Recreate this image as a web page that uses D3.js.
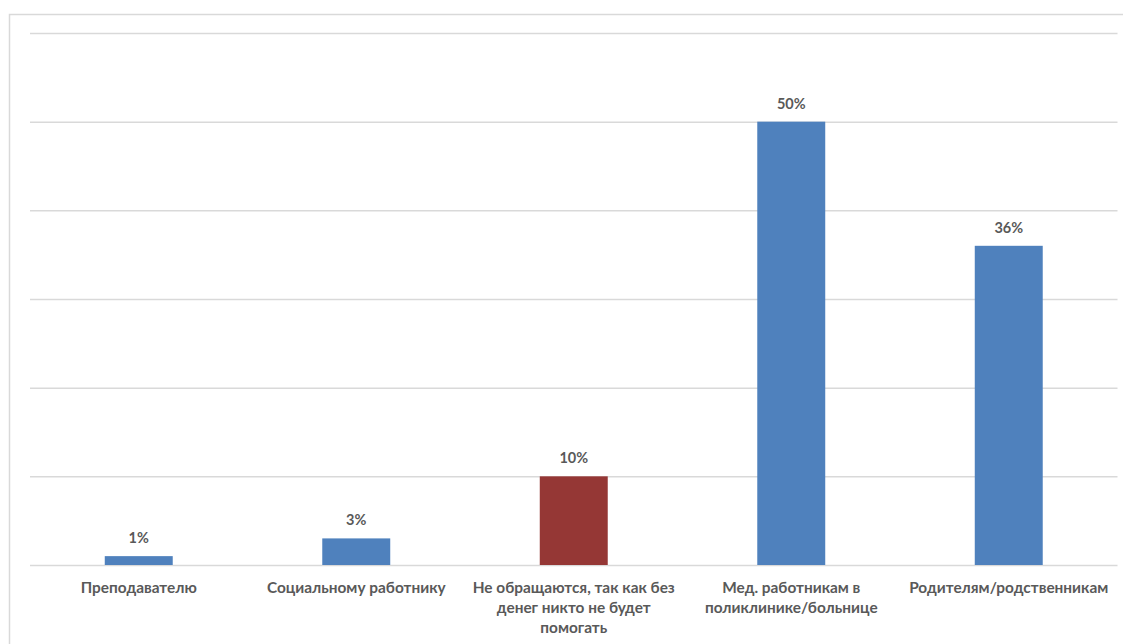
<!DOCTYPE html>
<html>
<head>
<meta charset="utf-8">
<script src="https://cdn.jsdelivr.net/npm/d3@7/dist/d3.min.js"></script>
<style>
  html, body { margin: 0; padding: 0; background: #fff; }
  svg { display: block; }
  text { font-family: Lato, "Open Sans", sans-serif; font-weight: bold; fill: #595959; }
</style>
</head>
<body>
<svg id="chart" width="1123" height="644"></svg>
<script>
const categories = [
  "Преподавателю",
  "Социальному работнику",
  "Не обращаются, так как без\nденег никто не будет\nпомогать",
  "Мед. работникам в\nполиклинике/больнице",
  "Родителям/родственникам"
];
const values = [1, 3, 10, 50, 36];
const valueLabels = ["1%", "3%", "10%", "50%", "36%"];
const barColors = ["#4F81BD", "#4F81BD", "#953735", "#4F81BD", "#4F81BD"];
const yTicks = [0, 10, 20, 30, 40, 50, 60];

const svg = d3.select("#chart");
const W = 1123, H = 644;

// outer frame
svg.append("path")
  .attr("d", `M9.5,${H} V14.5 H${W}`)
  .attr("fill", "none")
  .attr("stroke", "#d9d9d9")
  .attr("stroke-width", 1.5);

const plot = { left: 30, right: 1117.5, top: 33, bottom: 565 };

const x = d3.scaleBand()
  .domain(categories)
  .range([plot.left, plot.right])
  .paddingInner(0.6875)
  .paddingOuter(0.34375);

const y = d3.scaleLinear()
  .domain([0, 60])
  .range([plot.bottom, plot.top]);

// gridlines
const yAxis = d3.axisLeft(y).tickValues(yTicks).tickSize(-(plot.right - plot.left)).tickFormat("");
const gy = svg.append("g").attr("transform", `translate(${plot.left},0)`).call(yAxis);
gy.select(".domain").remove();
gy.selectAll(".tick line").attr("stroke", "#d9d9d9").attr("stroke-width", 1.5);

// bars
const data = categories.map((c, i) => ({ c, v: values[i], label: valueLabels[i], color: barColors[i] }));
svg.append("g").selectAll("rect")
  .data(data)
  .join("rect")
  .attr("x", d => x(d.c))
  .attr("y", d => y(d.v))
  .attr("width", x.bandwidth())
  .attr("height", d => y(0) - y(d.v))
  .attr("fill", d => d.color);

// value labels
svg.append("g").selectAll("text")
  .data(data)
  .join("text")
  .attr("x", d => x(d.c) + x.bandwidth() / 2)
  .attr("y", d => y(d.v) - 13)
  .attr("text-anchor", "middle")
  .attr("font-size", "14.5px")
  .text(d => d.label);

// x axis labels
const xAxis = d3.axisBottom(x).tickSize(0).tickPadding(0);
const gx = svg.append("g").attr("transform", `translate(0,${plot.bottom})`).call(xAxis);
gx.select(".domain").remove();
gx.selectAll(".tick text").each(function(d) {
  const t = d3.select(this);
  t.text(null).attr("y", 0).attr("dy", null).attr("font-size", "15.4px");
  d.split("\n").forEach((line, i) => {
    t.append("tspan").attr("x", 0).attr("y", 28 + i * 20).text(line);
  });
});
</script>
</body>
</html>
